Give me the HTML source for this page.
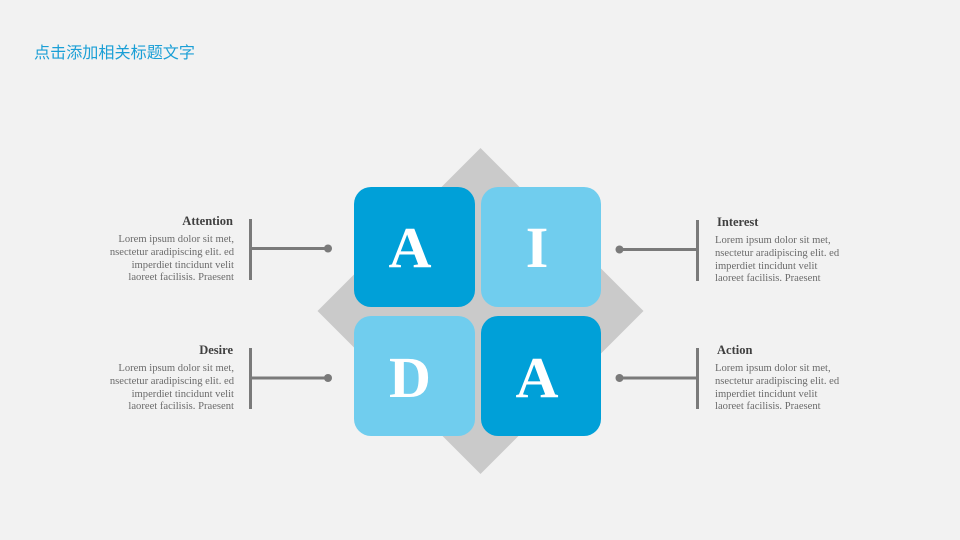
<!DOCTYPE html>
<html><head><meta charset="utf-8"><style>
body{margin:0;background:#f2f2f2;}
svg{display:block}
.t{font-family:"Liberation Serif",serif;font-weight:bold;font-size:12.5px;fill:#404040}
.b{font-family:"Liberation Serif",serif;font-size:10.6px;fill:#6b6b6b}
.L{font-family:"Liberation Serif",serif;font-weight:bold;font-size:58px;fill:#fff}
</style></head><body>
<svg width="960" height="540" viewBox="0 0 960 540">
<rect width="960" height="540" fill="#f2f2f2"/>
<text x="34" y="58" font-family="Liberation Sans,'Noto Sans CJK SC',sans-serif" font-size="16" fill="#1a9fd6" textLength="161" lengthAdjust="spacingAndGlyphs">点击添加相关标题文字</text>
<polygon points="480.5,148 643.5,311 480.5,474 317.5,311" fill="#cacaca"/>
<rect x="354" y="187" width="121" height="120" rx="17" fill="#00a0d8"/>
<rect x="481" y="187" width="120" height="120" rx="17" fill="#70cdee"/>
<rect x="354" y="316" width="121" height="120" rx="17" fill="#70cdee"/>
<rect x="481" y="316" width="120" height="120" rx="17" fill="#00a0d8"/>
<text class="L" x="410" y="267" text-anchor="middle" textLength="43" lengthAdjust="spacingAndGlyphs">A</text>
<text class="L" x="537" y="267" text-anchor="middle">I</text>
<text class="L" x="410" y="397" text-anchor="middle">D</text>
<text class="L" x="537" y="397" text-anchor="middle" textLength="43" lengthAdjust="spacingAndGlyphs">A</text>
<g stroke="#7a7a7a" fill="none">
<line x1="250.5" y1="219" x2="250.5" y2="280" stroke-width="3"/>
<line x1="250" y1="248.5" x2="327" y2="248.5" stroke-width="3"/>
<line x1="250.5" y1="348" x2="250.5" y2="409" stroke-width="3"/>
<line x1="250" y1="378" x2="327" y2="378" stroke-width="3"/>
<line x1="697.5" y1="220" x2="697.5" y2="281" stroke-width="3"/>
<line x1="620" y1="249.5" x2="698" y2="249.5" stroke-width="3"/>
<line x1="697.5" y1="348" x2="697.5" y2="409" stroke-width="3"/>
<line x1="620" y1="378" x2="698" y2="378" stroke-width="3"/>
</g>
<g fill="#7a7a7a">
<circle cx="328" cy="248.5" r="4"/><circle cx="328" cy="378" r="4"/>
<circle cx="619.5" cy="249.5" r="4"/><circle cx="619.5" cy="378" r="4"/>
</g>
<g text-anchor="end">
<text class="t" x="233" y="225">Attention</text>
<text class="b" x="234" y="242">Lorem ipsum dolor sit met,</text>
<text class="b" x="234" y="255">nsectetur aradipiscing elit. ed</text>
<text class="b" x="234" y="268">imperdiet tincidunt velit</text>
<text class="b" x="234" y="280">laoreet facilisis. Praesent</text>
<text class="t" x="233" y="354">Desire</text>
<text class="b" x="234" y="371">Lorem ipsum dolor sit met,</text>
<text class="b" x="234" y="384">nsectetur aradipiscing elit. ed</text>
<text class="b" x="234" y="397">imperdiet tincidunt velit</text>
<text class="b" x="234" y="409">laoreet facilisis. Praesent</text>
</g>
<g>
<text class="t" x="717" y="226">Interest</text>
<text class="b" x="715" y="243">Lorem ipsum dolor sit met,</text>
<text class="b" x="715" y="256">nsectetur aradipiscing elit. ed</text>
<text class="b" x="715" y="269">imperdiet tincidunt velit</text>
<text class="b" x="715" y="281">laoreet facilisis. Praesent</text>
<text class="t" x="717" y="354">Action</text>
<text class="b" x="715" y="371">Lorem ipsum dolor sit met,</text>
<text class="b" x="715" y="384">nsectetur aradipiscing elit. ed</text>
<text class="b" x="715" y="397">imperdiet tincidunt velit</text>
<text class="b" x="715" y="409">laoreet facilisis. Praesent</text>
</g>
</svg>
</body></html>
